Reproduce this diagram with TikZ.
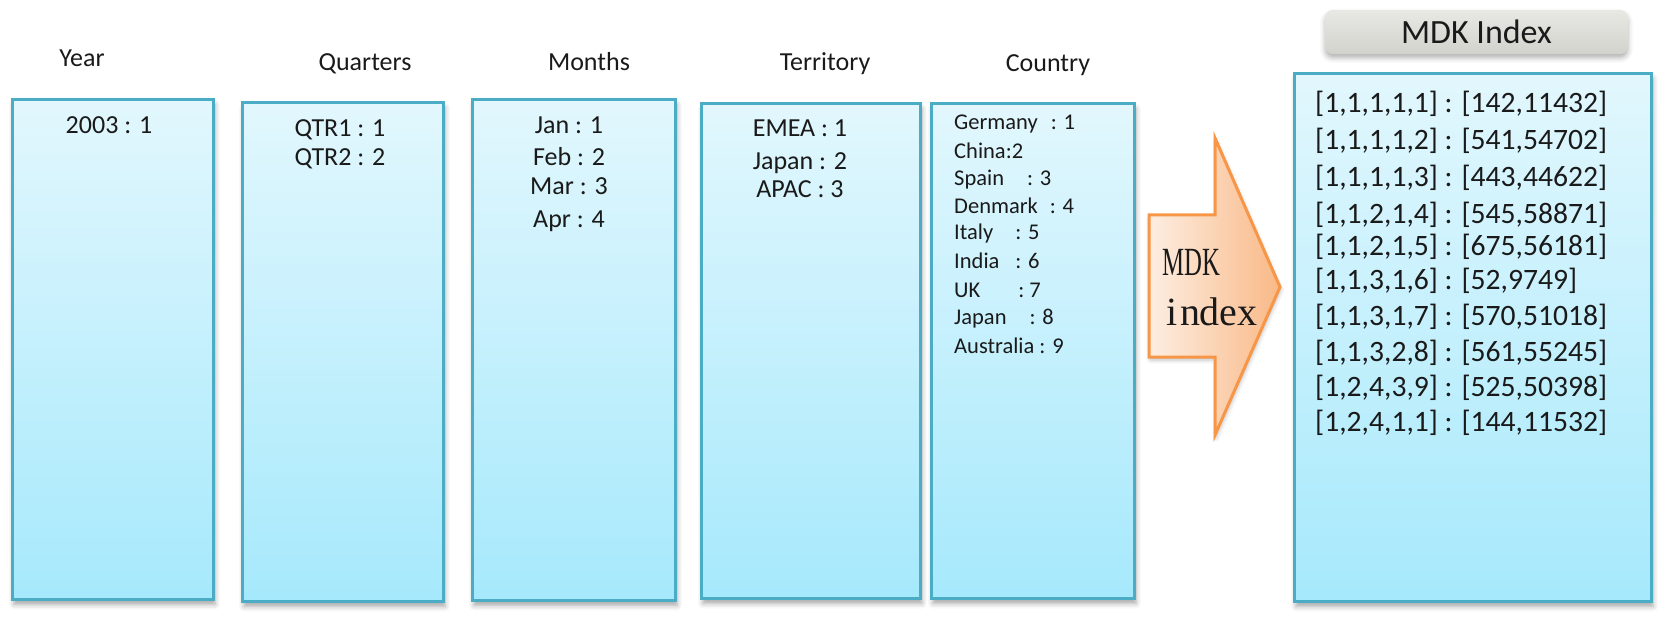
\documentclass[tikz,border=0pt]{standalone}
\usepackage{fontspec}
\usepackage{graphicx}
\setmainfont{Carlito}
\newfontfamily\arrowfont{Liberation Serif}
\usetikzlibrary{shadows.blur}

\definecolor{boxedge}{HTML}{4BACC6}
\definecolor{boxtop}{HTML}{E2F7FD}
\definecolor{boxbot}{HTML}{A6E9FC}
\definecolor{arrowedge}{HTML}{F79646}
\definecolor{arrowleft}{HTML}{FDEEE2}
\definecolor{arrowright}{HTML}{F9B987}
\definecolor{titletop}{HTML}{E8E8E4}
\definecolor{titlebot}{HTML}{D3D3CE}
\definecolor{ink}{HTML}{1A1A1A}

\newcommand\fsz[1]{\fontsize{#1}{#1}\selectfont}
\newcommand\mchar[1]{\makebox[19pt]{#1}}

\begin{document}
\begin{tikzpicture}[x=1pt,y=-1pt,
  dimbox/.style={draw=boxedge, line width=3pt, top color=boxtop, bottom color=boxbot,
    anchor=north west, inner sep=0pt,
    blur shadow={shadow xshift=1.5pt, shadow yshift=-5pt, shadow blur radius=5pt, shadow opacity=35}},
  head/.style={font=\fsz{26}, text=ink, anchor=base, inner sep=0pt},
  item/.style={font=\fsz{26}, text=ink, anchor=base, inner sep=0pt},
  citem/.style={font=\fsz{22.5}, text=ink, anchor=base west, inner sep=0pt},
  iitem/.style={font=\fsz{29.6}, text=ink, anchor=base west, inner sep=0pt},
  titlebox/.style={top color=titletop, bottom color=titlebot, rounded corners=8pt,
    inner sep=0pt, text=ink, font=\fsz{34},
    blur shadow={shadow xshift=0pt, shadow yshift=-4pt, shadow blur radius=5pt, shadow opacity=30}},
  arrowtext/.style={font=\arrowfont\fsz{40}, text=ink, anchor=base west, inner sep=0pt}
]
\useasboundingbox (0,0) rectangle (1660,620);

% column headings
\node[head] (hyear) at (82,67) {Year};
\node[head] (hqtr) at (365,71) {Quarters};
\node[head] (hmon) at (589,71) {Months};
\node[head] (hter) at (825,71) {Territory};
\node[head] (hcty) at (1048,72) {Country};

% dimension boxes
\node[dimbox, minimum width=201pt, minimum height=500pt] (year) at (11,98) {};
\node[dimbox, minimum width=201pt, minimum height=499pt] (qtr) at (241,101) {};
\node[dimbox, minimum width=203pt, minimum height=501pt] (mon) at (471,98) {};
\node[dimbox, minimum width=219pt, minimum height=495pt] (ter) at (700,102) {};
\node[dimbox, minimum width=203pt, minimum height=495pt] (cty) at (930,102) {};
\node[dimbox, minimum width=357pt, minimum height=528pt] (idx) at (1293,72) {};

% year
\node[item] (y1) at (109,134) {2003 : 1};
% quarters
\node[item] (q1) at (340,137) {QTR1 : 1};
\node[item] (q2) at (340,166) {QTR2 : 2};
% months
\node[item] (m1) at (569,134) {Jan : 1};
\node[item] (m2) at (569,166) {Feb : 2};
\node[item] (m3) at (569,195) {Mar : 3};
\node[item] (m4) at (569,228) {Apr : 4};
% territory
\node[item] (t1) at (800,137) {EMEA : 1};
\node[item] (t2) at (800,170) {Japan : 2};
\node[item] (t3) at (800,198) {APAC : 3};
% country
\node[citem] (c1) at (954,130) {Germany\hspace{13pt}: 1};
\node[citem] (c2) at (954,159) {China:2};
\node[citem] (c3) at (954,186) {Spain\hspace{23pt}: 3};
\node[citem] (c4) at (954,214) {Denmark\hspace{12pt}: 4};
\node[citem] (c5) at (954,240) {Italy\hspace{22pt}: 5};
\node[citem] (c6) at (954,269) {India\hspace{16pt}: 6};
\node[citem] (c7) at (954,298) {UK\hspace{38pt}: 7};
\node[citem] (c8) at (954,324) {Japan\hspace{23pt}: 8};
\node[citem] (c9) at (954,353) {Australia : 9};

% transform arrow
\path[draw=arrowedge, line width=3pt, line join=miter, left color=arrowleft, right color=arrowright,
  blur shadow={shadow xshift=1pt, shadow yshift=-3pt, shadow blur radius=4pt, shadow opacity=25}]
  (1149,215) -- (1215,215) -- (1215,138) -- (1280,287) -- (1215,435) -- (1215,357) -- (1149,357) -- cycle;
\node[arrowtext] (amdk) at (1162,276) {\scalebox{0.62}[1]{MDK}};
\node[arrowtext] (aidx) at (1162,326) {\mchar{i}\mchar{n}\mchar{d}\mchar{e}\mchar{x}};

% index title
\node[titlebox, minimum width=303pt, minimum height=44pt] (title) at (1476.5,32) {MDK Index};

% index entries
\node[iitem] (i1) at (1315,113) {[1,1,1,1,1] : [142,11432]};
\node[iitem] (i2) at (1315,150) {[1,1,1,1,2] : [541,54702]};
\node[iitem] (i3) at (1315,187) {[1,1,1,1,3] : [443,44622]};
\node[iitem] (i4) at (1315,224) {[1,1,2,1,4] : [545,58871]};
\node[iitem] (i5) at (1315,256) {[1,1,2,1,5] : [675,56181]};
\node[iitem] (i6) at (1315,290) {[1,1,3,1,6] : [52,9749]};
\node[iitem] (i7) at (1315,326) {[1,1,3,1,7] : [570,51018]};
\node[iitem] (i8) at (1315,361) {[1,1,3,2,8] : [561,55245]};
\node[iitem] (i9) at (1315,396) {[1,2,4,3,9] : [525,50398]};
\node[iitem] (i10) at (1315,431) {[1,2,4,1,1] : [144,11532]};
\end{tikzpicture}
\end{document}
